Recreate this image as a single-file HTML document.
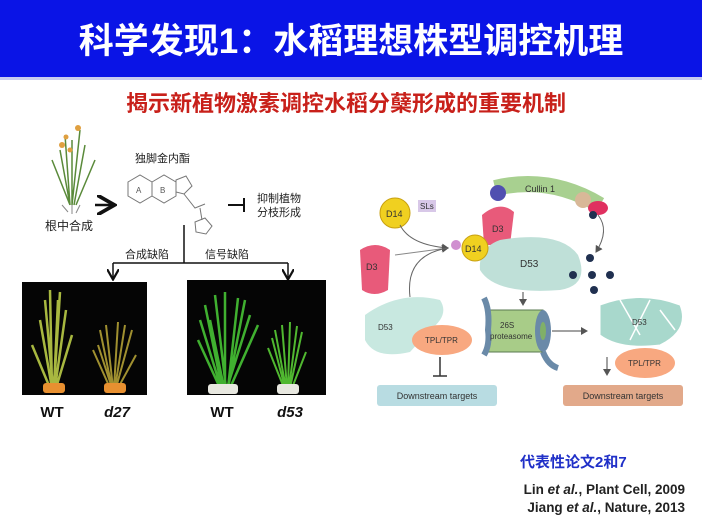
<!DOCTYPE html>
<html><head><meta charset="utf-8"><style>
body{margin:0;width:702px;height:522px;overflow:hidden;background:#fff;font-family:"Liberation Sans","Noto Sans CJK SC",sans-serif;}
</style></head><body>
<svg width="702" height="522" xmlns="http://www.w3.org/2000/svg" style="position:absolute;left:0;top:0">
<defs>
<marker id="ah" markerWidth="8" markerHeight="8" refX="6" refY="4" orient="auto"><path d="M0,0 L7,4 L0,8 z" fill="#555"/></marker>
<marker id="ak" markerWidth="8" markerHeight="8" refX="6" refY="4" orient="auto"><path d="M0,0 L7,4 L0,8" fill="none" stroke="#111" stroke-width="1.5"/></marker>
</defs>
<rect x="0" y="0" width="702" height="77" fill="#0a14e6"/>
<rect x="0" y="77" width="702" height="3" fill="#c8ccf0"/>
<text x="351" y="53" text-anchor="middle" font-size="35" font-weight="bold" fill="#fff" font-family="Liberation Sans,Noto Sans CJK SC,sans-serif">科学发现1：水稻理想株型调控机理</text>
<text x="346" y="111" text-anchor="middle" font-size="22" font-weight="bold" fill="#c8201a" font-family="Liberation Sans,Noto Sans CJK SC,sans-serif">揭示新植物激素调控水稻分蘖形成的重要机制</text>

<g stroke="#5a8a3a" stroke-width="1.5" fill="none">
<path d="M70,205 L60,150 M72,205 L72,140 M74,205 L85,145 M70,205 L52,160 M76,205 L95,160 M72,205 L80,130 M70,205 L65,135"/>
</g>
<g fill="#e0a040"><circle cx="62" cy="145" r="3"/><circle cx="78" cy="128" r="3"/><circle cx="66" cy="137" r="2.5"/><circle cx="70" cy="150" r="2.5"/></g>
<path d="M62,205 L68,212 M72,205 L72,214 M80,205 L76,213" stroke="#888" stroke-width="1"/>
<text x="45" y="230" font-size="12" fill="#222">根中合成</text>
<path d="M95,205 L112,205" stroke="#111" stroke-width="2.5" marker-end="url(#ak)"/>
<text x="135" y="162" font-size="11" fill="#222">独脚金内酯</text>
<g stroke="#777" fill="none" stroke-width="1">
<polygon points="128,182 140,175 152,182 152,196 140,203 128,196"/>
<polygon points="152,182 164,175 176,182 176,196 164,203 152,196"/>
<polygon points="176,180 186,176 192,186 184,194 176,192"/>
<path d="M184,194 L195,208 L205,204 M200,208 L202,220"/>
<polygon points="195,222 205,218 212,226 206,234 196,232"/>
<text x="136" y="193" font-size="8" fill="#555" stroke="none">A</text>
<text x="160" y="193" font-size="8" fill="#555" stroke="none">B</text>
</g>
<path d="M228,205 L244,205 M244,198 L244,212" stroke="#111" stroke-width="2"/>
<text x="257" y="202" font-size="11" fill="#222">抑制植物</text>
<text x="257" y="216" font-size="11" fill="#222">分枝形成</text>
<path d="M184,225 L184,263 M113,263 L288,263" stroke="#111" stroke-width="1.5" fill="none"/>
<path d="M113,263 L113,278" stroke="#111" stroke-width="1.5" marker-end="url(#ak)"/>
<path d="M288,263 L288,278" stroke="#111" stroke-width="1.5" marker-end="url(#ak)"/>
<text x="125" y="258" font-size="11" fill="#222">合成缺陷</text>
<text x="205" y="258" font-size="11" fill="#222">信号缺陷</text>

<rect x="22" y="282" width="125" height="113" fill="#050505"/>
<g stroke="#a8b840" stroke-width="2.5" fill="none">
<path d="M52,388 L50,290 M54,388 L60,292 M50,388 L32,345 M56,388 L72,335 M53,388 L45,300 M52,388 L40,320 M55,388 L66,310 M54,388 L58,300"/>
</g>
<g stroke="#a09030" stroke-width="2" fill="none">
<path d="M112,388 L100,330 M114,388 L118,322 M116,388 L132,330 M110,388 L93,350 M118,388 L136,355 M113,388 L106,325 M115,388 L125,325 M112,388 L98,345"/>
</g>
<rect x="43" y="383" width="22" height="10" rx="3" fill="#e89030"/>
<rect x="104" y="383" width="22" height="10" rx="3" fill="#e89030"/>

<rect x="187" y="280" width="139" height="115" fill="#050505"/>
<g stroke="#40b030" stroke-width="2.5" fill="none">
<path d="M222,388 L205,305 M225,388 L225,292 M228,388 L245,300 M220,388 L198,340 M230,388 L258,325 M226,388 L215,295 M224,388 L210,320 M228,388 L238,298 M227,388 L250,315 M221,388 L200,320"/>
</g>
<g stroke="#50b830" stroke-width="2" fill="none">
<path d="M286,388 L275,330 M288,388 L290,322 M290,388 L302,332 M284,388 L268,348 M292,388 L306,352 M287,388 L282,325 M289,388 L297,326 M285,388 L272,338"/>
</g>
<rect x="208" y="384" width="30" height="10" rx="3" fill="#e8e8e0"/>
<rect x="277" y="384" width="22" height="10" rx="3" fill="#e8e8e0"/>

<text x="52" y="417" text-anchor="middle" font-size="15" font-weight="bold" fill="#111">WT</text>
<text x="117" y="417" text-anchor="middle" font-size="15" font-weight="bold" font-style="italic" fill="#111">d27</text>
<text x="222" y="417" text-anchor="middle" font-size="15" font-weight="bold" fill="#111">WT</text>
<text x="290" y="417" text-anchor="middle" font-size="15" font-weight="bold" font-style="italic" fill="#111">d53</text>

<circle cx="395" cy="213" r="15" fill="#f0d020" stroke="#c8a010"/>
<text x="386" y="217" font-size="9" fill="#333">D14</text>
<rect x="418" y="200" width="18" height="12" fill="#d8c8e8"/>
<text x="420" y="209" font-size="8" fill="#333">SLs</text>
<path d="M360,250 Q375,240 390,250 L388,290 Q374,298 362,290 Z" fill="#e85a7a"/>
<text x="366" y="270" font-size="9" fill="#333">D3</text>
<path d="M400,225 Q410,245 448,248" stroke="#666" fill="none" marker-end="url(#ah)"/>
<path d="M395,255 L448,248" stroke="#888" fill="none" marker-end="url(#ah)"/>
<path d="M410,297 Q405,255 448,248" stroke="#666" fill="none"/>
<path d="M495,188 Q550,175 600,205" stroke="#a8d090" stroke-width="16" fill="none"/>
<text x="525" y="192" font-size="9" fill="#333">Cullin 1</text>
<circle cx="498" cy="193" r="8" fill="#5050b0"/>
<circle cx="583" cy="200" r="8" fill="#d8b898"/>
<ellipse cx="598" cy="208" rx="10" ry="7" fill="#e03060"/>
<path d="M598,215 Q610,230 596,252" stroke="#666" fill="none" marker-end="url(#ah)"/>
<path d="M482,215 Q500,200 514,212 L510,245 L484,245 Z" fill="#e85a7a"/>
<text x="492" y="232" font-size="9" fill="#333">D3</text>
<path d="M500,240 Q560,230 578,255 Q590,285 560,290 Q495,295 480,270 Q478,248 500,240 Z" fill="#bfe0d8"/>
<text x="520" y="267" font-size="10" fill="#333">D53</text>
<circle cx="475" cy="248" r="13" fill="#f0d020" stroke="#c8a010"/>
<text x="465" y="252" font-size="9" fill="#333">D14</text>
<circle cx="456" cy="245" r="5" fill="#d090d0"/>
<g fill="#203050"><circle cx="590" cy="258" r="4"/><circle cx="573" cy="275" r="4"/><circle cx="592" cy="275" r="4"/><circle cx="594" cy="290" r="4"/><circle cx="610" cy="275" r="4"/><circle cx="593" cy="215" r="4"/></g>
<path d="M523,292 L523,305" stroke="#444" marker-end="url(#ah)"/>
<rect x="488" y="310" width="55" height="42" fill="#a8cc88" stroke="#5a7a50"/>
<path d="M484,298 Q490,310 488,330 Q490,345 484,355" stroke="#6a8aa8" stroke-width="6" fill="none"/>
<ellipse cx="543" cy="331" rx="8" ry="21" fill="#6a8aa8"/>
<ellipse cx="543" cy="331" rx="3" ry="9" fill="#80b068"/>
<path d="M543,352 Q548,365 558,368" stroke="#6a8aa8" stroke-width="6" fill="none"/>
<text x="500" y="328" font-size="8" fill="#333">26S</text>
<text x="490" y="339" font-size="8" fill="#333">proteasome</text>
<path d="M552,331 L587,331" stroke="#444" marker-end="url(#ah)"/>
<path d="M365,315 Q400,290 440,300 Q450,315 430,330 L410,352 Q375,360 365,340 Z" fill="#c8e8e0"/>
<text x="378" y="330" font-size="8" fill="#333">D53</text>
<ellipse cx="442" cy="340" rx="30" ry="15" fill="#f8a880"/>
<text x="425" y="343" font-size="8" fill="#333">TPL/TPR</text>
<path d="M440,357 L440,376 M433,376 L447,376" stroke="#333" stroke-width="1.5"/>
<rect x="377" y="385" width="120" height="21" rx="3" fill="#b8dce2"/>
<text x="437" y="399" text-anchor="middle" font-size="9" fill="#333">Downstream targets</text>
<path d="M600,305 Q640,290 680,305 Q690,330 660,345 Q620,350 600,335 Z" fill="#a8d8cc" stroke="#fff"/>
<path d="M620,300 L640,335 M650,300 L630,340 M660,310 L675,330" stroke="#fff" stroke-width="1.5"/>
<text x="632" y="325" font-size="8" fill="#333">D53</text>
<ellipse cx="645" cy="363" rx="30" ry="15" fill="#f8a880"/>
<text x="628" y="366" font-size="8" fill="#333">TPL/TPR</text>
<path d="M607,357 L607,375" stroke="#444" marker-end="url(#ah)"/>
<rect x="563" y="385" width="120" height="21" rx="3" fill="#e2a98a"/>
<text x="623" y="399" text-anchor="middle" font-size="9" fill="#333">Downstream targets</text>

<text x="520" y="467" font-size="15" font-weight="bold" fill="#2030c8">代表性论文2和7</text>
<text x="685" y="494" text-anchor="end" font-size="13.5" font-weight="bold" fill="#222">Lin <tspan font-style="italic">et al.</tspan>, Plant Cell, 2009</text>
<text x="685" y="512" text-anchor="end" font-size="13.5" font-weight="bold" fill="#222">Jiang <tspan font-style="italic">et al.</tspan>, Nature, 2013</text>
</svg>
</body></html>
